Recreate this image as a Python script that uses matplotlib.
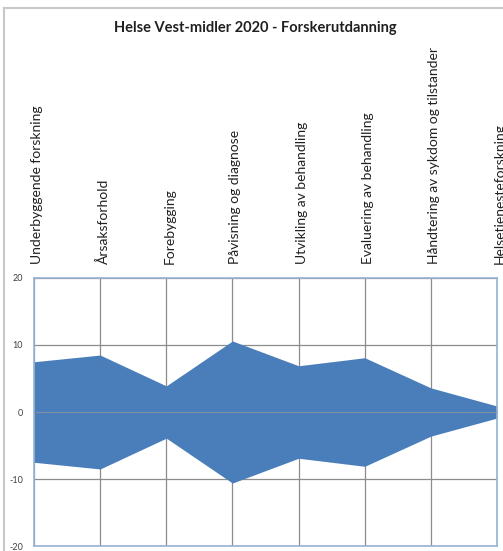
import matplotlib.pyplot as plt
import matplotlib.transforms as mtransforms
import numpy as np
from matplotlib.lines import Line2D

plt.rcParams["font.family"] = ["Lato", "DejaVu Sans"]

categories = [
    "Underbyggende forskning",
    "Årsaksforhold",
    "Forebygging",
    "Påvisning og diagnose",
    "Utvikling av behandling",
    "Evaluering av behandling",
    "Håndtering av sykdom og tilstander",
    "Helsetjenesteforskning",
]
half_width = [7.5, 8.5, 3.9, 10.6, 6.9, 8.1, 3.6, 0.9]
y_ticks = [-20, -10, 0, 10, 20]

fig = plt.figure(figsize=(5.03, 5.51), dpi=100)
ax = fig.add_axes([0.0676, 0.009, 0.9205, 0.4865])

x = np.arange(len(categories))
vals = np.array(half_width)
ax.fill_between(x, -vals, vals, color="#4A7EBB", linewidth=0, zorder=2)
ax.axhline(0, color="#7F8FA6", linewidth=0.8, zorder=3)

ax.set_xlim(0, len(categories) - 1)
ax.set_ylim(-20, 20)
ax.set_yticks(y_ticks)
ax.set_yticklabels([str(t) for t in y_ticks], fontsize=6.5, color="#404040")
ax.set_xticks(x)
ax.xaxis.tick_top()
ax.set_xticklabels(categories, rotation=90, fontsize=10, color="#202020")
ax.tick_params(axis="x", length=0, pad=10)
ax.tick_params(axis="y", length=0, pad=8)
# nudge category labels a little to the right, as in the original
shift = mtransforms.ScaledTranslation(3 / 100, 0, fig.dpi_scale_trans)
for lbl in ax.get_xticklabels():
    lbl.set_transform(lbl.get_transform() + shift)
ax.grid(True, color="#8C8C8C", linewidth=0.9, zorder=1)
ax.set_axisbelow(True)
for sp in ax.spines.values():
    sp.set_color("#95B3D7")
    sp.set_linewidth(1.2)

fig.text(0.507, 0.949, "Helse Vest-midler 2020 - Forskerutdanning",
         ha="center", va="center", fontsize=10.5, fontweight="bold", color="#202020")

# outer chart border
fig.add_artist(Line2D([0.008, 0.008], [0.0, 0.986], color="#C8C8C8", linewidth=1.5))
fig.add_artist(Line2D([0.008, 1.0], [0.986, 0.986], color="#C8C8C8", linewidth=1.5))

fig.savefig("out.png", dpi=100)
